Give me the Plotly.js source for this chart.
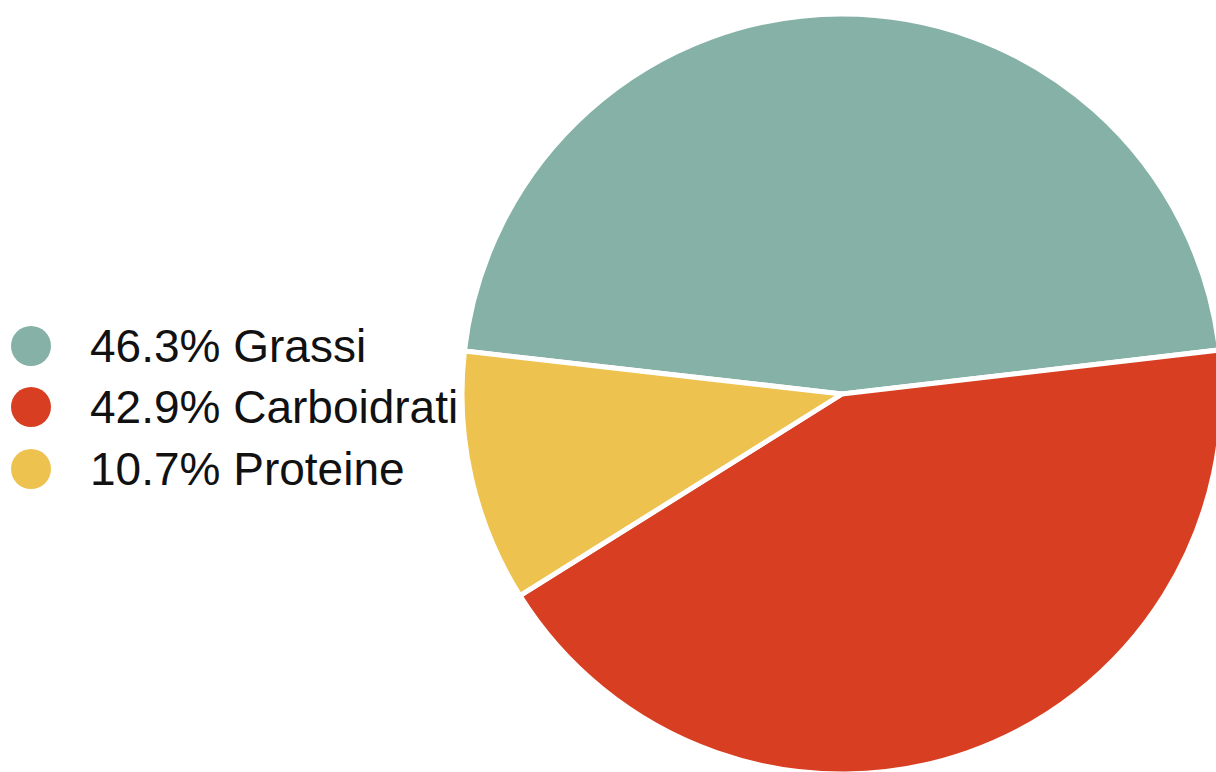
<!DOCTYPE html>
<html>
<head>
<meta charset="utf-8">
<script src="https://cdn.plot.ly/plotly-3.0.1.min.js"></script>
<style>
html, body { margin: 0; padding: 0; overflow: hidden; background: #ffffff; }
#chart { width: 1230px; height: 790px; }
</style>
</head>
<body>
<div id="chart"></div>
<script>
const labels = ['Grassi', 'Carboidrati', 'Proteine'];
const values = [46.3, 42.9, 10.7];
const colors = ['#85b1a6', '#d83f22', '#eec24f'];

const W = 1230, H = 790;
const cx = 842, cy = 394, r = 380;

const pie = {
  type: 'pie',
  labels: labels,
  values: values,
  sort: false,
  direction: 'clockwise',
  rotation: -83.5,
  textinfo: 'none',
  hoverinfo: 'label+percent',
  showlegend: false,
  marker: { colors: colors, line: { color: '#ffffff', width: 5 } },
  domain: {
    x: [(cx - r) / W, (cx + r) / W],
    y: [1 - (cy + r) / H, 1 - (cy - r) / H]
  }
};

const legendY = [346, 407, 469];
const shapes = [];
const annotations = [];
labels.forEach((lab, i) => {
  const py = 1 - legendY[i] / H;
  shapes.push({
    type: 'circle', xref: 'paper', yref: 'paper',
    xsizemode: 'pixel', ysizemode: 'pixel',
    xanchor: 31 / W, yanchor: py,
    x0: -20, x1: 20, y0: -20, y1: 20,
    fillcolor: colors[i], line: { width: 0 }
  });
  annotations.push({
    xref: 'paper', yref: 'paper',
    x: 88 / W, y: py,
    xanchor: 'left', yanchor: 'middle',
    showarrow: false,
    text: values[i].toFixed(1) + '% ' + lab,
    font: { family: 'Liberation Sans, Arial, sans-serif', size: 46, color: '#111111' }
  });
});

const layout = {
  width: W, height: H,
  margin: { l: 0, r: 0, t: 0, b: 0 },
  paper_bgcolor: '#ffffff',
  showlegend: false,
  shapes: shapes,
  annotations: annotations
};

Plotly.newPlot('chart', [pie], layout, { displayModeBar: false, staticPlot: true });
</script>
</body>
</html>
